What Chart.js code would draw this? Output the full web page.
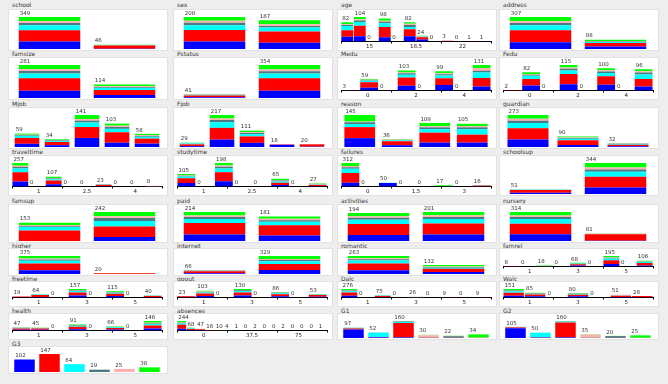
<!DOCTYPE html>
<html>
<head>
<meta charset="utf-8">
<script src="https://cdn.jsdelivr.net/npm/chart.js@4.4.1/dist/chart.umd.min.js"></script>
<style>
  body { margin: 0; background: #eeeeee; width: 668px; height: 384px; overflow: hidden; font-family: "DejaVu Sans", sans-serif; }
  .title { position: absolute; font-size: 6px; line-height: 8px; color: #333; white-space: nowrap; }
  .plot { position: absolute; background: #fff; box-shadow: 0 0 0 1px #e2e2e2; }
  canvas { display: block; }
</style>
</head>
<body>
<script>
// class colours, bottom of stack first
const classColors = ['#0000ff', '#ff0000', '#00ffff', '#4b7b82', '#ffafaf', '#00ff00'];

// each attribute: one row per class, one column per value / bin
const school = [[81,3],[124,36],[53,2],[25,2],[21,1],[45,2]];
const sex = [[48,40],[75,74],[32,25],[16,11],[12,11],[25,26]];
const age = [
  [20,22,0,18,0,22,8,0,1,0,0,1],
  [28,45,0,44,0,30,10,0,2,0,1,0],
  [18,16,0,15,0,10,2,0,0,0,0,0],
  [4,6,0,7,0,8,1,0,0,0,0,0],
  [3,5,0,4,0,5,2,0,0,0,0,0],
  [9,10,0,10,0,7,1,0,0,0,0,0]];
const address = [[65,23],[115,34],[47,10],[22,5],[18,5],[40,11]];
const famsize = [[62,26],[106,43],[41,16],[20,7],[16,7],[36,15]];
const Pstatus = [[9,79],[17,132],[6,51],[3,24],[2,21],[4,47]];
const Medu = [
  [1,14,0,25,0,28,0,20],
  [2,28,0,42,0,35,0,44],
  [0,8,0,14,0,14,0,28],
  [0,3,0,7,0,6,0,10],
  [0,2,0,5,0,5,0,14],
  [0,4,0,10,0,11,0,15]];
const Fedu = [
  [0,22,0,28,0,26,0,18],
  [2,30,0,46,0,38,0,34],
  [0,14,0,16,0,15,0,20],
  [0,5,0,8,0,7,0,9],
  [0,3,0,6,0,5,0,6],
  [0,8,0,11,0,9,0,9]];
const Mjob = [[14,8,40,19,15],[26,14,48,46,22],[9,4,20,15,8],[3,3,8,8,4],[2,2,7,6,3],[5,3,18,9,6]];
const Fjob = [[6,50,28,15,2],[12,80,44,3,16],[6,38,15,0,0],[2,15,8,0,1],[1,10,6,0,1],[2,24,10,0,0]];
const reason = [[40,8,20,20],[50,18,45,36],[14,4,16,25],[8,2,8,8],[3,2,5,6],[30,2,15,10]];
const guardian = [[65,18,6],[95,40,14],[45,12,6],[20,6,2],[15,4,1],[33,10,3]];
const traveltime = [
  [55,0,25,0,0,2,0,0,0],
  [100,0,40,0,0,14,0,0,1],
  [42,0,15,0,0,0,0,0,0],
  [17,0,8,0,0,6,0,0,0],
  [13,0,6,0,0,1,0,0,7],
  [30,0,13,0,0,0,0,0,0]];
const studytime = [
  [30,0,45,0,0,12,0,2],
  [40,0,75,0,0,20,0,10],
  [14,0,32,0,0,10,0,2],
  [6,0,14,0,0,8,0,2],
  [5,0,10,0,0,5,0,8],
  [10,0,22,0,0,10,0,3]];
const failures = [
  [50,0,45,0,0,0,0,0],
  [130,0,3,0,0,1,0,10],
  [55,0,1,0,0,0,0,0],
  [22,0,1,0,0,5,0,5],
  [15,0,0,0,0,0,0,1],
  [40,0,0,0,0,11,0,0]];
const schoolsup = [[15,73],[30,119],[3,54],[1,26],[1,22],[1,50]];
const famsup = [[0,33],[88,88],[28,45],[8,25],[9,15],[20,36]];
const paid = [[48,40],[84,76],[30,26],[16,12],[10,10],[26,17]];
const activities = [[42,45],[75,76],[30,32],[14,14],[10,11],[23,23]];
const nursery = [[72,2],[115,70],[50,2],[23,2],[17,3],[37,2]];
const higher = [[80,2],[140,14],[55,0],[27,2],[22,0],[51,2]];
const internet = [[12,75],[40,110],[4,50],[6,20],[2,21],[2,53]];
const romantic = [[55,30],[100,48],[42,15],[18,9],[15,8],[33,22]];
const famrel = [
  [2,0,2,0,18,0,48,0,20],
  [6,0,2,0,25,0,70,0,46],
  [0,0,3,0,8,0,30,0,16],
  [0,0,3,0,4,0,15,0,5],
  [0,0,0,0,3,0,10,0,6],
  [0,0,8,0,10,0,22,0,13]];
const freetime = [
  [3,10,0,38,0,26,0,6],
  [14,36,0,55,0,42,0,22],
  [0,8,0,25,0,20,0,4],
  [1,3,0,12,0,8,0,2],
  [1,2,0,8,0,7,0,2],
  [0,5,0,19,0,12,0,4]];
const goout = [
  [3,22,0,30,0,18,0,12],
  [18,40,0,45,0,33,0,25],
  [0,16,0,25,0,14,0,6],
  [1,8,0,10,0,6,0,3],
  [1,5,0,6,0,5,0,3],
  [0,12,0,14,0,10,0,4]];
const Dalc = [
  [60,0,18,0,4,0,2,0,3],
  [100,0,30,0,8,0,5,0,5],
  [45,0,10,0,2,0,0,0,0],
  [20,0,5,0,2,0,1,0,1],
  [15,0,4,0,10,0,0,0,0],
  [36,0,8,0,0,0,1,0,0]];
const Walc = [
  [30,20,0,20,0,10,4],
  [55,32,0,30,0,20,22],
  [28,12,0,12,0,4,0],
  [10,6,0,5,0,2,1],
  [8,5,0,5,0,12,1],
  [20,10,0,8,0,3,0]];
const health = [
  [12,10,0,20,0,15,0,31],
  [20,22,0,36,0,25,0,46],
  [6,5,0,14,0,10,0,22],
  [3,3,0,7,0,5,0,9],
  [2,2,0,4,0,4,0,11],
  [4,3,0,10,0,7,0,27]];
const absences = [
  [45,15,12,3,2,1,0,0,1,0,0,0,0,0,0,0],
  [100,25,18,8,5,2,1,0,1,0,0,2,0,0,0,1],
  [35,10,7,2,1,1,0,0,0,0,0,0,0,0,0,0],
  [18,5,3,1,1,0,0,0,0,0,0,0,0,0,0,0],
  [14,4,2,1,0,0,0,0,0,0,0,0,0,0,0,0],
  [32,9,5,1,1,0,0,0,0,0,0,0,0,0,0,0]];
const G1 = [[80,6,6,0,0,0],[10,4,135,2,2,1],[5,40,10,0,0,0],[2,2,5,4,15,1],[0,0,2,20,3,2],[0,0,2,4,2,30]];
const G2 = [[92,4,6,0,0,0],[8,3,140,1,1,0],[3,42,8,0,0,0],[2,1,4,3,17,1],[0,0,1,28,1,1],[0,0,1,3,1,23]];
const G3 = [[102,0,0,0,0,0],[0,147,0,0,0,0],[0,0,64,0,0,0],[0,0,0,19,0,0],[0,0,0,0,25,0],[0,0,0,0,0,38]];

// axis labels (min, mid, max) of the numeric attributes
const ageTicks = [15, 18.5, 22];
const eduTicks = [0, 2, 4];
const timeTicks = [1, 2.5, 4];
const failTicks = [0, 1.5, 3];
const scaleTicks = [1, 3, 5];
const absTicks = [0, 37.5, 75];

const panels = [
  ['school', school], ['sex', sex], ['age', age, ageTicks], ['address', address],
  ['famsize', famsize], ['Pstatus', Pstatus], ['Medu', Medu, eduTicks], ['Fedu', Fedu, eduTicks],
  ['Mjob', Mjob], ['Fjob', Fjob], ['reason', reason], ['guardian', guardian],
  ['traveltime', traveltime, timeTicks], ['studytime', studytime, timeTicks], ['failures', failures, failTicks], ['schoolsup', schoolsup],
  ['famsup', famsup], ['paid', paid], ['activities', activities], ['nursery', nursery],
  ['higher', higher], ['internet', internet], ['romantic', romantic], ['famrel', famrel, scaleTicks],
  ['freetime', freetime, scaleTicks], ['goout', goout, scaleTicks], ['Dalc', Dalc, scaleTicks], ['Walc', Walc, scaleTicks],
  ['health', health, scaleTicks], ['absences', absences, absTicks], ['G1', G1], ['G2', G2],
  ['G3', G3]
];

// grid geometry
const colX = [9, 174, 338, 500];
const panelW = 158;
const titleTop = [1, 50, 100, 148, 197, 242, 275, 307, 340];
const plotTop = [10, 58, 108, 156, 205, 249, 282, 314, 347];
const plotBottom = [50, 99, 148, 195, 242, 275, 306, 339, 373];

Chart.defaults.font.family = '"DejaVu Sans", sans-serif';

// counts written above each bar, left aligned like the original
const countLabels = {
  id: 'countLabels',
  afterDatasetsDraw(chart) {
    const ctx = chart.ctx;
    const first = chart.getDatasetMeta(0);
    const y = chart.scales.y;
    ctx.save();
    ctx.font = '5.5px "DejaVu Sans"';
    ctx.fillStyle = '#333';
    ctx.textBaseline = 'bottom';
    chart.data.labels.forEach((l, j) => {
      let total = 0;
      chart.data.datasets.forEach(d => { total += d.data[j]; });
      const bar = first.data[j];
      ctx.fillText(String(total), bar.x - bar.width / 2 + 1, y.getPixelForValue(total) - 1);
    });
    ctx.restore();
  }
};

panels.forEach((p, i) => {
  const [name, data, ticks] = p;
  const col = i % 4, row = Math.floor(i / 4);

  const t = document.createElement('div');
  t.className = 'title';
  t.style.left = (colX[col] + 3) + 'px';
  t.style.top = titleTop[row] + 'px';
  t.textContent = name;
  document.body.appendChild(t);

  const h = plotBottom[row] - plotTop[row];
  const box = document.createElement('div');
  box.className = 'plot';
  box.style.left = colX[col] + 'px';
  box.style.top = plotTop[row] + 'px';
  box.style.width = panelW + 'px';
  box.style.height = h + 'px';
  const cv = document.createElement('canvas');
  cv.width = panelW;
  cv.height = h;
  box.appendChild(cv);
  document.body.appendChild(box);

  const n = data[0].length;
  let maxTotal = 0;
  for (let j = 0; j < n; j++) {
    let s = 0;
    data.forEach(r => { s += r[j]; });
    if (s > maxTotal) maxTotal = s;
  }

  const datasets = data.map((vals, k) => ({
    data: vals,
    backgroundColor: classColors[k],
    borderWidth: 0,
    categoryPercentage: ticks ? 1 : 0.82,
    barPercentage: ticks ? 0.95 : 1
  }));

  const scales = {
    x: { stacked: true, display: false },
    y: { stacked: true, display: false, min: 0, max: maxTotal }
  };
  if (ticks) {
    scales.x2 = {
      type: 'linear',
      position: 'bottom',
      min: ticks[0],
      max: ticks[2],
      afterBuildTicks: s => { s.ticks = ticks.map(v => ({ value: v })); },
      ticks: { font: { size: 5.5, lineHeight: 1 }, color: '#222', align: 'inner', padding: 0, maxRotation: 0, autoSkip: false },
      grid: { drawOnChartArea: false, drawTicks: true, tickLength: 2, color: '#000' },
      border: { display: true, color: '#000' }
    };
  }

  new Chart(cv, {
    type: 'bar',
    data: { labels: data[0].map((v, j) => j), datasets },
    options: {
      responsive: false,
      animation: false,
      layout: { padding: { top: 7, left: 3, right: 5, bottom: 1 } },
      plugins: { legend: { display: false }, tooltip: { enabled: false } },
      scales
    },
    plugins: [countLabels]
  });
});
</script>
</body>
</html>
